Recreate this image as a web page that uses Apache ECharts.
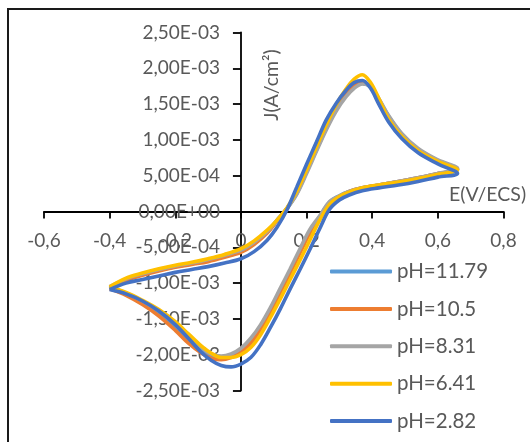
<!DOCTYPE html>
<html>
<head>
<meta charset="utf-8">
<script src="https://cdn.jsdelivr.net/npm/echarts@6/dist/echarts.min.js"></script>
<style>
  html, body { margin: 0; padding: 0; background: #fff; }
  #chart { width: 530px; height: 442px; }
</style>
</head>
<body>
<div id="chart"></div>
<script>
// potentiel E (V/ECS) : balayage aller puis retour
const eAller = [-0.40, -0.35, -0.30, -0.25, -0.20, -0.15, -0.10, -0.05, 0.00, 0.04, 0.08, 0.11, 0.14, 0.17,
  0.20, 0.23, 0.26, 0.29, 0.32, 0.345, 0.37, 0.395, 0.42, 0.45, 0.49, 0.54, 0.60, 0.66];
const eRetour = [0.60, 0.54, 0.48, 0.42, 0.37, 0.33, 0.30, 0.27, 0.24, 0.21, 0.18, 0.15, 0.12, 0.09,
  0.06, 0.03, 0.00, -0.03, -0.06, -0.09, -0.12, -0.16, -0.20, -0.25, -0.30, -0.35, -0.40];

// densite de courant J, en 1E-03 A/cm2
const jPh1179Aller = [-1.07, -0.95, -0.88, -0.82, -0.77, -0.73, -0.68, -0.62, -0.55, -0.44, -0.29, -0.12, 0.04, 0.25,
  0.55, 0.86, 1.16, 1.42, 1.62, 1.74, 1.79, 1.74, 1.57, 1.33, 1.08, 0.87, 0.71, 0.59];
const jPh1179Retour = [0.53, 0.47, 0.42, 0.37, 0.33, 0.28, 0.22, 0.13, -0.07, -0.28, -0.55, -0.83, -1.10, -1.37,
  -1.61, -1.80, -1.94, -2.01, -2.04, -2.02, -1.94, -1.79, -1.61, -1.42, -1.28, -1.16, -1.07];

const jPh105Aller = [-1.08, -0.96, -0.89, -0.83, -0.78, -0.74, -0.70, -0.64, -0.57, -0.46, -0.30, -0.13, 0.04, 0.26,
  0.56, 0.87, 1.17, 1.43, 1.63, 1.75, 1.80, 1.74, 1.56, 1.32, 1.07, 0.86, 0.71, 0.59];
const jPh105Retour = [0.53, 0.47, 0.42, 0.37, 0.33, 0.28, 0.21, 0.12, -0.08, -0.30, -0.58, -0.86, -1.13, -1.40,
  -1.64, -1.84, -1.97, -2.04, -2.07, -2.05, -1.98, -1.84, -1.66, -1.46, -1.30, -1.17, -1.08];

const jPh831Aller = [-1.05, -0.94, -0.87, -0.81, -0.76, -0.72, -0.67, -0.61, -0.54, -0.43, -0.28, -0.12, 0.04, 0.24,
  0.53, 0.84, 1.14, 1.40, 1.60, 1.72, 1.78, 1.74, 1.58, 1.34, 1.09, 0.88, 0.72, 0.60];
const jPh831Retour = [0.53, 0.47, 0.42, 0.37, 0.33, 0.28, 0.22, 0.14, -0.06, -0.25, -0.52, -0.80, -1.07, -1.34,
  -1.58, -1.77, -1.91, -1.99, -2.02, -1.99, -1.90, -1.74, -1.57, -1.39, -1.25, -1.14, -1.05];

const jPh641Aller = [-1.05, -0.93, -0.86, -0.80, -0.75, -0.71, -0.66, -0.60, -0.52, -0.41, -0.26, -0.12, 0.05, 0.28,
  0.58, 0.90, 1.21, 1.49, 1.71, 1.85, 1.91, 1.80, 1.58, 1.29, 1.05, 0.85, 0.70, 0.58];
const jPh641Retour = [0.52, 0.46, 0.41, 0.37, 0.33, 0.27, 0.21, 0.10, -0.12, -0.40, -0.68, -0.95, -1.22, -1.48,
  -1.72, -1.90, -2.00, -2.04, -2.04, -1.98, -1.88, -1.71, -1.54, -1.37, -1.24, -1.13, -1.05];

const jPh282Aller = [-1.09, -1.00, -0.95, -0.90, -0.85, -0.81, -0.77, -0.72, -0.66, -0.56, -0.40, -0.22, 0.02, 0.34,
  0.66, 0.97, 1.28, 1.51, 1.69, 1.80, 1.83, 1.72, 1.50, 1.25, 1.02, 0.82, 0.665, 0.53];
const jPh282Retour = [0.48, 0.42, 0.37, 0.33, 0.29, 0.23, 0.16, 0.03, -0.24, -0.53, -0.81, -1.08, -1.36, -1.62,
  -1.86, -2.04, -2.13, -2.17, -2.15, -2.08, -1.97, -1.77, -1.58, -1.39, -1.25, -1.15, -1.09];

const nomsSeries = ['pH=11.79', 'pH=10.5', 'pH=8.31', 'pH=6.41', 'pH=2.82'];
const couleurs = ['#5B9BD5', '#ED7D31', '#A5A5A5', '#FFC000', '#4472C4'];
const jAller = [jPh1179Aller, jPh105Aller, jPh831Aller, jPh641Aller, jPh282Aller];
const jRetour = [jPh1179Retour, jPh105Retour, jPh831Retour, jPh641Retour, jPh282Retour];

const xMin = -0.6, xMax = 0.8, xPas = 0.2;
const yMin = -2.5, yMax = 2.5, yPas = 0.5;

const police = 'Lato, "Open Sans", sans-serif';
const gris = '#595959';

// zone de trace (px)
const grille = { left: 44, right: 26.5, top: 32.5, bottom: 51.5 };
const largeur = 530 - grille.left - grille.right;
const hauteur = 442 - grille.top - grille.bottom;
// axes croises a l'origine (comme Excel) : decalage depuis le bord de la grille
const decalageX = -hauteur * (0 - yMin) / (yMax - yMin);
const decalageY = -largeur * (0 - xMin) / (xMax - xMin);

// format Excel : 2,50E-03
function formatSci(v) {
  const s = (v * 1e-3).toExponential(2);
  const parts = s.split('e');
  const exp = parseInt(parts[1], 10);
  const signe = exp < 0 ? '-' : '+';
  const e = String(Math.abs(exp)).padStart(2, '0');
  return parts[0].replace('.', ',') + 'E' + signe + e;
}

// boucle fermee : aller puis retour
function boucle(i) {
  const pts = [];
  eAller.forEach((e, k) => pts.push([e, jAller[i][k]]));
  eRetour.forEach((e, k) => pts.push([e, jRetour[i][k]]));
  return pts;
}

const chart = echarts.init(document.getElementById('chart'));

const option = {
  animation: false,
  color: couleurs,
  grid: {
    left: grille.left,
    right: grille.right,
    top: grille.top,
    bottom: grille.bottom,
    containLabel: false,
    outerBoundsMode: 'none'
  },
  legend: {
    orient: 'vertical',
    left: 325,
    top: 256,
    icon: 'roundRect',
    itemWidth: 62,
    itemHeight: 4,
    itemGap: 16.4,
    data: nomsSeries,
    textStyle: {
      fontFamily: police,
      fontSize: 20.5,
      lineHeight: 21,
      color: gris
    }
  },
  xAxis: {
    type: 'value',
    min: xMin,
    max: xMax,
    interval: xPas,
    position: 'bottom',
    offset: decalageX,
    splitLine: { show: false },
    axisLine: { onZero: false, lineStyle: { color: '#000', width: 1.8 } },
    axisTick: { show: true, length: 7, lineStyle: { color: '#000', width: 1.8 } },
    axisLabel: {
      margin: 20,
      fontFamily: police,
      fontSize: 19,
      color: gris,
      formatter: v => String(+v.toFixed(1)).replace('.', ',')
    }
  },
  yAxis: {
    type: 'value',
    min: yMin,
    max: yMax,
    interval: yPas,
    position: 'left',
    offset: decalageY,
    splitLine: { show: false },
    axisLine: { onZero: false, lineStyle: { color: '#000', width: 1.8 } },
    axisTick: { show: true, length: 8, lineStyle: { color: '#000', width: 1.8 } },
    axisLabel: {
      margin: 21,
      fontFamily: police,
      fontSize: 19,
      color: gris,
      formatter: v => formatSci(v)
    }
  },
  graphic: [
    {
      type: 'rect',
      shape: { x: 8, y: 9, width: 620, height: 520 },
      style: { fill: 'none', stroke: '#1a1a1a', lineWidth: 2 },
      silent: true
    },
    {
      type: 'text',
      left: 449,
      top: 185,
      style: { text: 'E(V/ECS)', font: '19.5px ' + police, fill: gris }
    },
    {
      type: 'text',
      x: 271.5,
      y: 85,
      rotation: Math.PI / 2,
      style: {
        text: 'J(A/cm²)',
        font: '19.5px ' + police,
        fill: gris,
        align: 'center',
        verticalAlign: 'middle'
      }
    }
  ],
  series: nomsSeries.map((nom, i) => ({
    name: nom,
    type: 'line',
    data: boucle(i),
    symbol: 'none',
    smooth: 0.35,
    lineStyle: { width: 3.6, color: couleurs[i] }
  }))
};

chart.setOption(option);
</script>
</body>
</html>
